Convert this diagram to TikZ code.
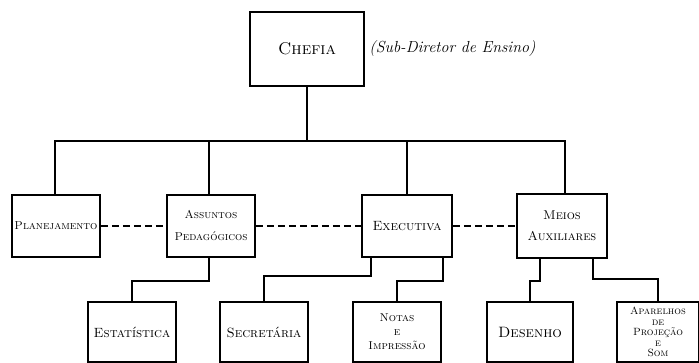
\documentclass[tikz,border=0pt]{standalone}
\usepackage{tikz}
\usetikzlibrary{positioning}

\tikzset{
  orgbox/.style={draw, line width=1.8pt, align=center, inner sep=1pt,
    font=\fontsize{13.4}{15}\selectfont\scshape},
  wire/.style={line width=1.8pt},
  dashlink/.style={line width=1.4pt, dash pattern=on 7pt off 4pt}
}

\begin{document}
\begin{tikzpicture}[x=1pt, y=-1pt]
  \useasboundingbox (0,0) rectangle (699,363);

  \node[orgbox, minimum width=114pt, minimum height=74pt,
        font=\fontsize{17}{18}\selectfont\scshape] (chefia) at (307,49) {Chefia};
  \node[right=1pt of chefia, font=\fontsize{16}{17}\selectfont\itshape] (subdir) {(Sub-Diretor de Ensino)};

  \node[orgbox, minimum width=88pt, minimum height=62pt,
        font=\fontsize{11.5}{13}\selectfont\scshape] (plan) at (56,226) {Planejamento};
  \node[orgbox, minimum width=88pt, minimum height=62pt,
        font=\fontsize{11.4}{22}\selectfont\scshape] (assun) at (211,226) {Assuntos\\Pedagógicos};
  \node[orgbox, minimum width=90pt, minimum height=62pt] (exec) at (407,226) {Executiva};
  \node[orgbox, minimum width=90pt, minimum height=64pt,
        font=\fontsize{12.8}{21}\selectfont\scshape] (meios) at (562,226) {Meios\\Auxiliares};

  \node[orgbox, minimum width=88pt, minimum height=60pt] (estat) at (132,332) {Estatística};
  \node[orgbox, minimum width=88pt, minimum height=60pt] (secr) at (264,332) {Secretária};
  \node[orgbox, minimum width=88pt, minimum height=60pt,
        font=\fontsize{11.4}{14}\selectfont\scshape] (notas) at (397,332) {Notas\\e\\Impressão};
  \node[orgbox, minimum width=86pt, minimum height=60pt,
        font=\fontsize{15}{16}\selectfont\scshape] (desenho) at (530,332) {Desenho};
  \node[orgbox, minimum width=82pt, minimum height=60pt,
        font=\fontsize{10.5}{10.5}\selectfont\scshape] (apar) at (658,332) {Aparelhos\\de\\Projeção\\e\\Som};

  \coordinate (bus) at (0,141);
  \draw[wire] (chefia.south) -- (chefia.south |- bus);
  \draw[wire] ([xshift=-1pt]plan.north) -- ([xshift=-1pt]plan.north |- bus)
    -- ([xshift=3pt]meios.north |- bus) -- ([xshift=3pt]meios.north);
  \draw[wire] ([xshift=-2pt]assun.north) -- ([xshift=-2pt]assun.north |- bus);
  \draw[wire] (exec.north) -- (exec.north |- bus);

  \draw[dashlink] (plan) -- (assun);
  \draw[dashlink] (assun) -- (exec);
  \draw[dashlink] (exec) -- (meios);

  \draw[wire] ([xshift=-2pt]assun.south) -- ++(0,23) -| (estat.north);
  \draw[wire] ([xshift=10pt]exec.south west) -- ++(0,18) -| (secr.north);
  \draw[wire] ([xshift=-10pt]exec.south east) -- ++(0,23) -| (notas.north);
  \draw[wire] ([xshift=-22pt]meios.south) -- ++(0,22) -| (desenho.north);
  \draw[wire] ([xshift=31pt]meios.south) -- ++(0,20) -| (apar.north);
\end{tikzpicture}
\end{document}
